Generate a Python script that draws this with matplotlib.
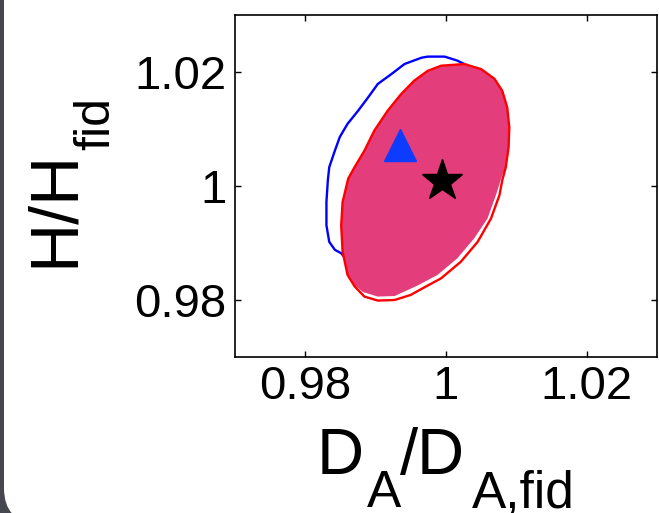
import matplotlib
matplotlib.use("Agg")
import matplotlib.pyplot as plt
from matplotlib.patches import FancyBboxPatch, Polygon
from matplotlib.transforms import IdentityTransform

plt.rcParams['font.family'] = ['Liberation Sans', 'DejaVu Sans']

# outer contour (blue line)
blue_x = [1.0026, 1.0016, 0.9998, 0.9974, 0.9965, 0.9941, 0.9922, 0.9903, 0.9889, 0.9875,
          0.9860, 0.9849, 0.9842, 0.9834, 0.9832, 0.9830, 0.9830, 0.9834, 0.9842, 0.9851,
          0.9877, 0.9934, 0.9983, 1.0019, 1.0050, 1.0070, 1.0076, 1.0069, 1.0047]
blue_y = [1.0214, 1.0220, 1.0227, 1.0227, 1.0225, 1.0214, 1.0196, 1.0179, 1.0155, 1.0132,
          1.0109, 1.0086, 1.0062, 1.0033, 1.0010, 0.9972, 0.9931, 0.9902, 0.9888, 0.9882,
          0.9843, 0.9823, 0.9849, 0.9896, 0.9954, 1.0027, 1.0097, 1.0159, 1.0199]

# red contour line
red_x = [0.9993, 1.0026, 1.0050, 1.0069, 1.0080, 1.0087, 1.0090, 1.0089, 1.0085, 1.0080,
         1.0076, 1.0064, 1.0045, 1.0021, 0.9993, 0.9966, 0.9950, 0.9927, 0.9903, 0.9884,
         0.9870, 0.9860, 0.9853, 0.9851, 0.9853, 0.9861, 0.9870, 0.9884, 0.9898, 0.9917,
         0.9936, 0.9955, 0.9974]
red_y = [1.0211, 1.0214, 1.0205, 1.0188, 1.0167, 1.0138, 1.0103, 1.0068, 1.0033, 1.0010,
         0.9984, 0.9943, 0.9902, 0.9867, 0.9838, 0.9820, 0.9809, 0.9800, 0.9799, 0.9806,
         0.9824, 0.9844, 0.9885, 0.9931, 0.9972, 1.0013, 1.0033, 1.0062, 1.0097, 1.0132,
         1.0161, 1.0185, 1.0202]

# filled region
fill_x = [0.9993, 1.0026, 1.0050, 1.0069, 1.0080, 1.0087, 1.0090, 1.0089, 1.0085, 1.0080,
          1.0071, 1.0059, 1.0040, 1.0016, 0.9988, 0.9959, 0.9927, 0.9903, 0.9882, 0.9870,
          0.9860, 0.9853, 0.9851, 0.9853, 0.9861, 0.9870, 0.9884, 0.9898, 0.9917, 0.9936,
          0.9955, 0.9974]
fill_y = [1.0211, 1.0214, 1.0205, 1.0188, 1.0167, 1.0138, 1.0103, 1.0068, 1.0033, 1.0019,
          0.9984, 0.9943, 0.9908, 0.9873, 0.9844, 0.9825, 0.9807, 0.9806, 0.9814, 0.9826,
          0.9844, 0.9885, 0.9931, 0.9972, 1.0013, 1.0033, 1.0062, 1.0097, 1.0132, 1.0161,
          1.0185, 1.0202]

tri_pt = (0.9934, 1.0072)
star_pt = (0.9995, 1.0008)

ticks = [0.98, 1.0, 1.02]
tick_labels = ['0.98', '1', '1.02']

fig = plt.figure(figsize=(6.59, 5.13), dpi=100)
fig.patch.set_facecolor('#47474f')
# white panel with rounded bottom-left corner
panel = FancyBboxPatch((4, -10), 800, 700, boxstyle='round,pad=0,rounding_size=35',
                       transform=IdentityTransform(), facecolor='white',
                       edgecolor='none', zorder=-10)
fig.patches.append(panel)

ax = fig.add_axes([235 / 659, 1 - 357 / 513, 422 / 659, 342 / 513])
ax.set_xlim(0.97, 1.03)
ax.set_ylim(0.97, 1.03)

ax.add_patch(Polygon(list(zip(blue_x, blue_y)), closed=True, fill=False,
                     edgecolor='#0000ff', linewidth=1.7, zorder=2))
ax.add_patch(Polygon(list(zip(fill_x, fill_y)), closed=True, facecolor='#e33d7b',
                     edgecolor='none', zorder=3))
ax.add_patch(Polygon(list(zip(red_x, red_y)), closed=True, fill=False,
                     edgecolor='#ff0000', linewidth=1.7, zorder=4))

ax.plot(*tri_pt, marker='^', color='#0d3bff', markersize=23, linestyle='none', zorder=5)
ax.plot(*star_pt, marker='*', color='black', markersize=31, linestyle='none', zorder=5)

ax.set_xticks(ticks)
ax.set_xticklabels(tick_labels)
ax.set_yticks(ticks)
ax.set_yticklabels(tick_labels)
ax.tick_params(direction='in', length=4, width=1, top=True, right=True,
               labelsize=34, pad=6)
ax.tick_params(axis='y', pad=6)
for s in ax.spines.values():
    s.set_linewidth(1.2)

# axis labels built from pieces so the subscripts sit low
tr = IdentityTransform()
fig.text(317, 39, 'D', fontsize=47, transform=tr, ha='left', va='baseline')
fig.text(367, 6, 'A', fontsize=37, transform=tr, ha='left', va='baseline')
fig.text(400, 39, '/', fontsize=47, transform=tr, ha='left', va='baseline')
fig.text(417, 39, 'D', fontsize=47, transform=tr, ha='left', va='baseline')
fig.text(472, 6, 'A,fid', fontsize=37, transform=tr, ha='left', va='baseline')

fig.text(73, 246, 'H/H', fontsize=49, transform=tr, rotation=90,
         rotation_mode='anchor', ha='left', va='baseline')
fig.text(109, 363, 'fid', fontsize=36, transform=tr, rotation=90,
         rotation_mode='anchor', ha='left', va='baseline')

fig.savefig('out.png', dpi=100)
